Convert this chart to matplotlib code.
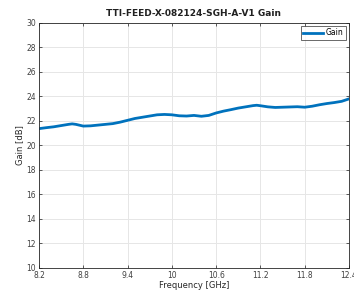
import numpy as np
import matplotlib
matplotlib.use("Agg")
import matplotlib.pyplot as plt

# Gain vs frequency
freq_ghz = [8.2, 8.3, 8.4, 8.5, 8.6, 8.65, 8.7, 8.8, 8.9, 9.0, 9.1, 9.2, 9.3,
            9.4, 9.5, 9.6, 9.7, 9.8, 9.9, 10.0, 10.1, 10.2, 10.3, 10.4, 10.5,
            10.6, 10.7, 10.8, 10.9, 11.0, 11.1, 11.15, 11.2, 11.3, 11.4, 11.5,
            11.6, 11.7, 11.8, 11.9, 12.0, 12.1, 12.2, 12.3, 12.4]
gain_db = [21.37, 21.45, 21.52, 21.62, 21.72, 21.76, 21.72, 21.58, 21.60,
           21.66, 21.72, 21.78, 21.90, 22.05, 22.20, 22.30, 22.40, 22.50,
           22.53, 22.50, 22.42, 22.40, 22.45, 22.38, 22.45, 22.65, 22.80,
           22.92, 23.05, 23.15, 23.25, 23.28, 23.24, 23.15, 23.10, 23.12,
           23.14, 23.16, 23.12, 23.20, 23.32, 23.42, 23.50, 23.60, 23.80]

x_ticks = [8.2, 8.8, 9.4, 10, 10.6, 11.2, 11.8, 12.4]
x_tick_labels = ["8.2", "8.8", "9.4", "10", "10.6", "11.2", "11.8", "12.4"]
y_ticks = list(range(10, 31, 2))

fig = plt.figure(figsize=(3.54, 2.9), dpi=100)
ax = fig.add_axes([0.110, 0.076, 0.876, 0.845])

ax.plot(freq_ghz, gain_db, color="#0072BD", lw=2, label="Gain")

ax.set_xlim(8.2, 12.4)
ax.set_ylim(10, 30)
ax.set_xticks(x_ticks)
ax.set_xticklabels(x_tick_labels)
ax.set_yticks(y_ticks)
ax.grid(True, color="#e6e6e6", lw=0.7)
ax.set_axisbelow(True)
ax.tick_params(direction="in", length=2.5, width=0.6, colors="#404040",
               labelsize=5.5, top=True, right=True, pad=2)
for s in ax.spines.values():
    s.set_color("#262626")
    s.set_linewidth(0.6)

ax.set_xlabel("Frequency [GHz]", fontsize=6, color="#262626", labelpad=1)
ax.set_ylabel("Gain [dB]", fontsize=6, color="#262626", labelpad=2)
ax.set_title("TTI-FEED-X-082124-SGH-A-V1 Gain", fontsize=6.5,
             fontweight="bold", color="#202020", pad=5)

leg = ax.legend(loc="upper right", fontsize=5.5, fancybox=False,
                handlelength=2.6, borderpad=0.3, borderaxespad=0.4,
                handletextpad=0.4)
leg.get_frame().set_edgecolor("#262626")
leg.get_frame().set_linewidth(0.6)

fig.savefig("out.png", dpi=100)
